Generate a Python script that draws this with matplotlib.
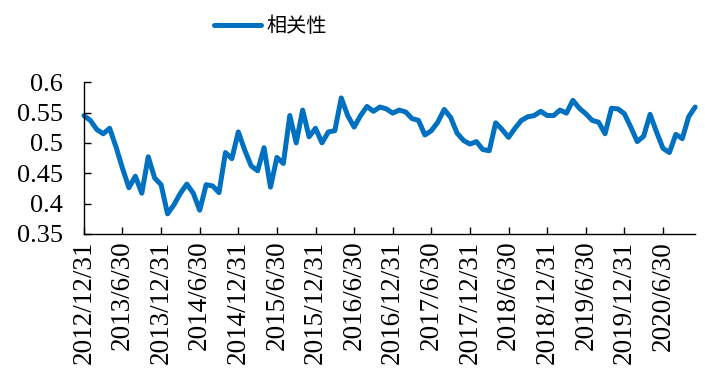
import pandas as pd
import matplotlib
matplotlib.use("Agg")
import matplotlib.pyplot as plt

# monthly correlation, 2012/12 .. 2020/11
dates = pd.date_range("2012-12-31", periods=96, freq="ME")
corr = [
    0.545, 0.537, 0.522, 0.515, 0.524, 0.493, 0.458, 0.426, 0.445, 0.417,
    0.477, 0.442, 0.431, 0.383, 0.398, 0.417, 0.432, 0.417, 0.389, 0.431,
    0.429, 0.418, 0.484, 0.474, 0.518, 0.488, 0.462, 0.454, 0.492, 0.427,
    0.476, 0.466, 0.545, 0.500, 0.554, 0.510, 0.524, 0.500, 0.518, 0.520,
    0.574, 0.545, 0.526, 0.545, 0.560, 0.552, 0.559, 0.556, 0.549, 0.554,
    0.551, 0.540, 0.537, 0.513, 0.520, 0.534, 0.555, 0.542, 0.516, 0.504,
    0.498, 0.502, 0.489, 0.487, 0.533, 0.522, 0.509, 0.524, 0.537, 0.543,
    0.545, 0.552, 0.545, 0.545, 0.554, 0.549, 0.570, 0.557, 0.548, 0.537,
    0.534, 0.515, 0.557, 0.556, 0.548, 0.526, 0.502, 0.511, 0.547, 0.518,
    0.491, 0.484, 0.514, 0.507, 0.543, 0.559,
]
yticks = [0.35, 0.4, 0.45, 0.5, 0.55, 0.6]
ytick_labels = ["0.35", "0.4", "0.45", "0.5", "0.55", "0.6"]

plt.rcParams["font.family"] = ["Liberation Serif", "Noto Sans CJK SC"]

fig = plt.figure(figsize=(7.05, 3.84), dpi=100)
ax = fig.add_axes([0.119, 0.391, 0.867, 0.395])

x = list(range(len(corr)))
ax.plot(x, corr, color="#0070C0", lw=3.6, solid_capstyle="round",
        solid_joinstyle="round", clip_on=False, label="相关性")

ax.set_xlim(0, len(corr) - 1)
ax.set_ylim(0.35, 0.6)

pos = x[::6]
ax.set_xticks(pos)
ax.set_xticklabels([f"{d.year}/{d.month}/{d.day}" for d in dates[::6]],
                   rotation=90, fontsize=19.5)
ax.set_yticks(yticks)
ax.set_yticklabels(ytick_labels, fontsize=19)
ax.tick_params(direction="in", length=5, width=1, color="black")
ax.tick_params(axis="x", pad=5)
ax.tick_params(axis="y", pad=15)

for s in ["top", "right"]:
    ax.spines[s].set_visible(False)
for s in ["left", "bottom"]:
    ax.spines[s].set_color("black")
    ax.spines[s].set_linewidth(1)

leg = fig.legend(loc="center", bbox_to_anchor=(0.384, 0.93), frameon=False,
                 prop={"family": "Noto Sans CJK SC", "size": 14.5},
                 handlelength=2.3, handletextpad=0.3)

fig.savefig("out.png", dpi=100)
